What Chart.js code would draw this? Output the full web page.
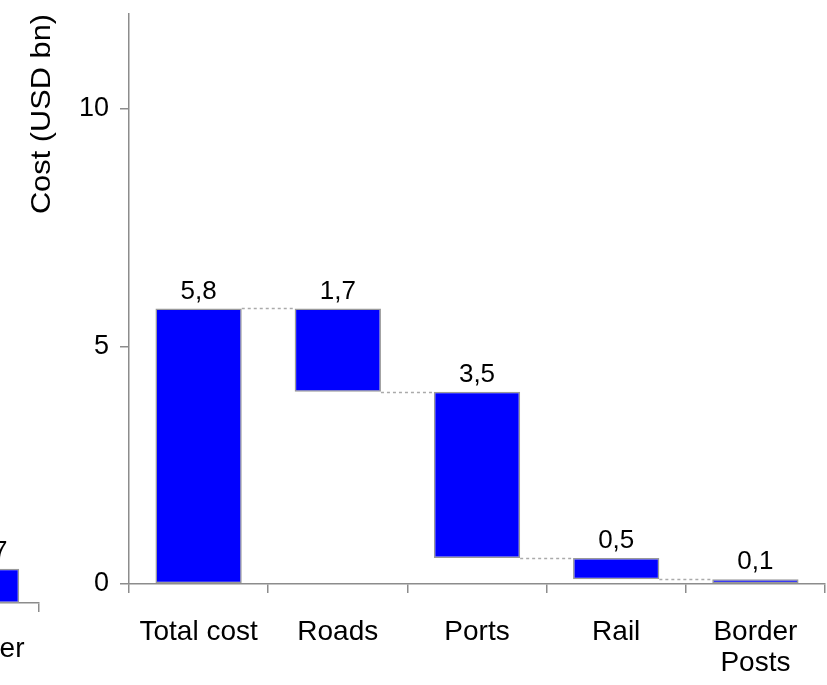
<!DOCTYPE html>
<html lang="en">
<head>
<meta charset="UTF-8" />
<title>Cost breakdown waterfall</title>
<script src="https://cdn.jsdelivr.net/npm/chart.js"></script>
<style>
  html, body { margin: 0; padding: 0; background: #fff; overflow: hidden; }
  #wrap { position: relative; width: 827px; height: 685px; overflow: hidden; }
  #side { position: absolute; left: -70px; top: 0; }
  #main { position: absolute; left: 0; top: 0; }
</style>
</head>
<body>
<div id="wrap">
  <canvas id="side" width="110" height="685"></canvas>
  <canvas id="main" width="827" height="685"></canvas>
</div>
<script>
// main waterfall
const categories = ['Total cost', 'Roads', 'Ports', 'Rail', ['Border', 'Posts']];
const barLow = [0, 4.05, 0.55, 0.1, 0];
const barHigh = [5.8, 5.8, 4.05, 0.55, 0.1];
const valueLabels = [5.8, 1.7, 3.5, 0.5, 0.1];
const yTicks = [0, 5, 10];
const yMax = 12;
const yTitle = 'Cost (USD bn)';

// neighbouring chart, only its right edge shows
const sideCategories = ['Other'];
const sideLow = [0];
const sideHigh = [0.7];
const sideLabels = [0.7];

const FONT = "'Liberation Sans', Arial, sans-serif";
const AXIS = '#8c8c8c';

function fmt(v) {
  return v.toFixed(1).replace('.', ',');
}

// value labels, dotted connectors, y title
function extrasPlugin(labels, low, high, withTitle) {
  return {
    id: 'extras',
    afterDatasetsDraw(chart) {
      const ctx = chart.ctx;
      const bars = chart.getDatasetMeta(0).data;
      const y = chart.scales.y;
      ctx.save();
      ctx.strokeStyle = '#aaaaaa';
      ctx.lineWidth = 1.5;
      ctx.setLineDash([3, 3]);
      for (let i = 0; i < bars.length - 1; i++) {
        const level = i === 0 ? high[0] : low[i];
        const py = Math.round(y.getPixelForValue(level)) + 0.5;
        ctx.beginPath();
        ctx.moveTo(bars[i].x + bars[i].width / 2, py);
        ctx.lineTo(bars[i + 1].x - bars[i + 1].width / 2, py);
        ctx.stroke();
      }
      ctx.setLineDash([]);
      ctx.fillStyle = '#000';
      ctx.font = '26px ' + FONT;
      ctx.textAlign = 'center';
      ctx.textBaseline = 'alphabetic';
      bars.forEach((b, i) => {
        ctx.fillText(fmt(labels[i]), b.x, Math.min(b.y, b.base) - 10);
      });
      if (withTitle) {
        ctx.font = '28px ' + FONT;
        ctx.translate(50, 114);
        ctx.rotate(-Math.PI / 2);
        ctx.scale(1.1, 1);
        ctx.fillText(yTitle, 0, 0);
      }
      ctx.restore();
    }
  };
}

function axisOpts() {
  return {
    grid: { offset: true, drawOnChartArea: false, drawTicks: true, tickLength: 9, color: AXIS, lineWidth: 1.5 },
    border: { color: AXIS, width: 1.5 }
  };
}

function fixX(h) {
  return s => { s.height = h; s.paddingLeft = 0; s.paddingRight = 0; };
}

new Chart(document.getElementById('main'), {
  type: 'bar',
  data: {
    labels: categories,
    datasets: [{
      data: barLow.map((lo, i) => [lo, barHigh[i]]),
      backgroundColor: '#0000ff',
      borderColor: '#999999',
      borderWidth: 1.5,
      borderSkipped: false,
      barPercentage: 0.62,
      categoryPercentage: 1
    }]
  },
  options: {
    responsive: false,
    animation: false,
    layout: { padding: { top: 14, right: 2, left: 0, bottom: 0 } },
    plugins: { legend: { display: false }, tooltip: { enabled: false } },
    scales: {
      x: Object.assign(axisOpts(), {
        ticks: { color: '#000', font: { size: 28, family: FONT, lineHeight: 1.1 }, padding: 24, maxRotation: 0, autoSkip: false },
        afterFit: fixX(101)
      }),
      y: Object.assign(axisOpts(), {
        min: 0,
        max: yMax,
        grid: { drawOnChartArea: false, drawTicks: true, tickLength: 9, color: AXIS, lineWidth: 1.5 },
        afterBuildTicks: s => { s.ticks = yTicks.map(v => ({ value: v })); },
        ticks: { color: '#000', font: { size: 27, family: FONT }, padding: 11 },
        afterFit: s => { s.width = 129; s.paddingTop = 0; s.paddingBottom = 0; }
      })
    }
  },
  plugins: [extrasPlugin(valueLabels, barLow, barHigh, true)]
});

new Chart(document.getElementById('side'), {
  type: 'bar',
  data: {
    labels: sideCategories,
    datasets: [{
      data: sideLow.map((lo, i) => [lo, sideHigh[i]]),
      backgroundColor: '#0000ff',
      borderColor: '#999999',
      borderWidth: 1.5,
      borderSkipped: false,
      barPercentage: 0.6,
      categoryPercentage: 1
    }]
  },
  options: {
    responsive: false,
    animation: false,
    layout: { padding: { top: 15, right: 1, left: 10, bottom: 0 } },
    plugins: { legend: { display: false }, tooltip: { enabled: false } },
    scales: {
      x: Object.assign(axisOpts(), {
        ticks: { color: '#000', font: { size: 28, family: FONT }, padding: 20, maxRotation: 0, autoSkip: false },
        afterFit: fixX(82)
      }),
      y: { display: false, min: 0, max: yMax }
    }
  },
  plugins: [extrasPlugin(sideLabels, sideLow, sideHigh, false)]
});
</script>
</body>
</html>
